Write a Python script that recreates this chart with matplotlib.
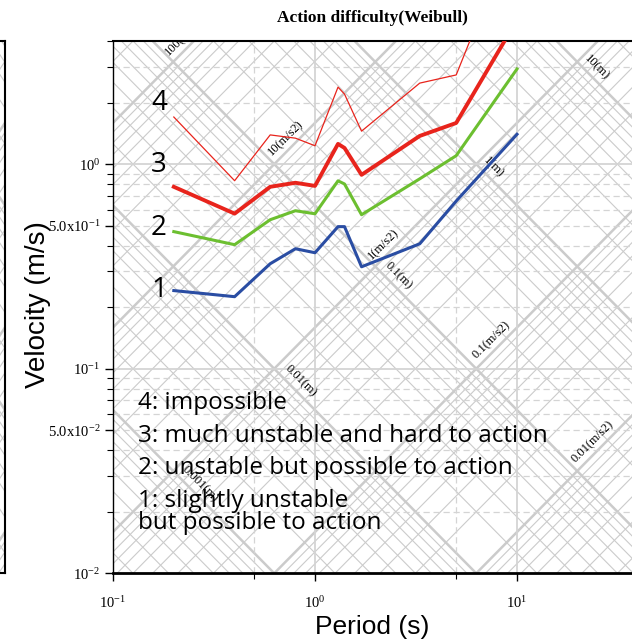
import numpy as np
import matplotlib
matplotlib.use('Agg')
import matplotlib.pyplot as plt
from matplotlib.ticker import FixedLocator, NullFormatter

plt.rcParams['mathtext.fontset'] = 'custom'
plt.rcParams['mathtext.rm'] = 'Liberation Serif'

# period (s) and velocity (m/s) for each difficulty level
periods = [0.2, 0.4, 0.6, 0.8, 1.0, 1.3, 1.4, 1.7, 3.3, 5.0, 10.0]
level1 = [0.241, 0.225, 0.326, 0.386, 0.369, 0.495, 0.495, 0.315, 0.408, 0.66, 1.40]
level2 = [0.468, 0.404, 0.535, 0.592, 0.572, 0.829, 0.80, 0.566, 0.848, 1.10, 2.92]
level3 = [0.775, 0.573, 0.775, 0.811, 0.783, 1.256, 1.20, 0.887, 1.374, 1.59, 5.07]
level4 = [1.70, 0.83, 1.39, 1.34, 1.23, 2.38, 2.20, 1.45, 2.49, 2.73, 15.0]

legend_lines = ['4: impossible',
                '3: much unstable and hard to action',
                '2: unstable but possible to action',
                '1: slightly unstable\nbut possible to action']

# tripartite labels: text, value, period where label sits
disp_labels = [('10(m)', 10, 24.9), ('1(m)', 1, 7.6), ('0.1(m)', 0.1, 2.58),
               ('0.01(m)', 0.01, 0.845), ('0.001(m)', 0.001, 0.27)]
acc_labels = [('100(m/s2)', 100, 0.227), ('10(m/s2)', 10, 0.718), ('1(m/s2)', 1, 2.19),
              ('0.1(m/s2)', 0.1, 7.46), ('0.01(m/s2)', 0.01, 23.7)]

W, H = 632, 641
fig = plt.figure(figsize=(W / 100, H / 100), dpi=100)
top_px, bot_px, left_px = 41, 573.3, 113
ax = fig.add_axes([left_px / W, (H - bot_px) / H, 606 / W, (bot_px - top_px) / H])
# neighbouring panel, mostly cropped away
ax0 = fig.add_axes([-400 / W, (H - bot_px) / H, 405 / W, (bot_px - top_px) / H])

gray = '#cbcbcb'
Tline = np.array([0.01, 1000.0])


def tripartite(a):
    for n in range(-5, 3):
        for k in range(1, 10):
            v = k * 10.0 ** n
            lw = 1.8 if k == 1 else 0.8
            a.plot(Tline, 2 * np.pi * v / Tline, color=gray, lw=lw, zorder=1)
    for n in range(-5, 4):
        for k in range(1, 10):
            v = k * 10.0 ** n
            lw = 1.8 if k == 1 else 0.8
            a.plot(Tline, v * Tline / (2 * np.pi), color=gray, lw=lw, zorder=1)


for a in (ax, ax0):
    a.set_xscale('log')
    a.set_yscale('log')
    tripartite(a)
    a.set_xlim(0.1, 100)
    a.set_ylim(0.01, 4)

ax0.set_xticks([])
ax0.set_yticks([])
ax0.minorticks_off()
for s in ax0.spines.values():
    s.set_linewidth(1.5)

# grid
for y in [0.1, 1]:
    ax.axhline(y, color='#d4d4d4', lw=1.3, zorder=1.5)
for n in [-2, -1, 0]:
    for k in range(2, 10):
        y = k * 10.0 ** n
        if y < 4:
            ax.axhline(y, color='#d4d4d4', lw=0.9, ls=(0, (5, 3)), zorder=1.5)
for x in [1, 10]:
    ax.axvline(x, color='#d4d4d4', lw=1.3, zorder=1.5)
for x in [0.5, 5, 50]:
    ax.axvline(x, color='#d4d4d4', lw=0.9, ls=(0, (5, 3)), zorder=1.5)

# tripartite labels
for txt, d, t in disp_labels:
    ax.annotate(txt, (t, 2 * np.pi * d / t), xytext=(0, 10), textcoords='offset points',
                rotation=-45, ha='center', va='center', fontsize=9,
                family='Liberation Serif', zorder=2, annotation_clip=False, clip_on=True)
for txt, a_, t in acc_labels:
    ax.annotate(txt, (t, a_ * t / (2 * np.pi)), xytext=(0, 10), textcoords='offset points',
                rotation=45, ha='center', va='center', fontsize=9,
                family='Liberation Serif', zorder=2, annotation_clip=False, clip_on=True)

# curves
ax.plot(periods, level1, color='#2a4da3', lw=2.2, zorder=3)
ax.plot(periods, level2, color='#6cbf30', lw=2.2, zorder=3)
ax.plot(periods, level3, color='#e8241c', lw=2.8, zorder=3)
ax.plot(periods, level4, color='#e8241c', lw=0.9, zorder=3)

sans = ['Open Sans', 'DejaVu Sans']
for num, y in zip(['4', '3', '2', '1'], [103, 165, 228, 290]):
    fig.text(159 / W, 1 - y / H, num, ha='center', va='center', fontsize=20,
             family=sans, zorder=4)

ty = [403, 436, 468, 512]
for line, y in zip(legend_lines, ty):
    fig.text(138 / W, 1 - y / H, line, ha='left', va='center', fontsize=17.5,
             family=sans, linespacing=0.85, zorder=5)

# axes styling
ax.xaxis.set_major_locator(FixedLocator([0.1, 1, 10, 100]))
ax.set_xticklabels([r'$\mathrm{10^{-1}}$', r'$\mathrm{10^{0}}$',
                    r'$\mathrm{10^{1}}$', ''])
ax.xaxis.set_minor_locator(FixedLocator([0.5, 5, 50]))
ax.xaxis.set_minor_formatter(NullFormatter())
ax.yaxis.set_major_locator(FixedLocator([0.01, 0.05, 0.1, 0.5, 1]))
ax.set_yticklabels([r'$\mathrm{10^{-2}}$', r'$\mathrm{5.0x10^{-2}}$',
                    r'$\mathrm{10^{-1}}$', r'$\mathrm{5.0x10^{-1}}$',
                    r'$\mathrm{10^{0}}$'])
ax.yaxis.set_minor_locator(FixedLocator([k * 10.0 ** n for n in [-2, -1, 0]
                                         for k in [2, 3, 4, 6, 7, 8, 9]]))
ax.yaxis.set_minor_formatter(NullFormatter())
ax.tick_params(which='major', length=6, width=1, labelsize=10.5, pad=3)
ax.tick_params(which='minor', length=4, width=0.8)
ax.tick_params(axis='x', which='major', pad=10)
ax.spines['bottom'].set_linewidth(2)
ax.spines['left'].set_linewidth(1)
ax.spines['top'].set_linewidth(1.5)

fig.text(38 / W, 1 - 305 / H, 'Velocity (m/s)', rotation=90, ha='center', va='center',
         fontsize=20, family='Liberation Sans')
fig.text(372 / W, 1 - 627 / H, 'Period (s)', ha='center', va='center',
         fontsize=19, family='Liberation Sans')
fig.text(372 / W, 1 - 18 / H, 'Action difficulty(Weibull)', ha='center', va='center',
         fontsize=12.5, family='Liberation Serif', weight='bold')

fig.savefig('out.png', dpi=100)
